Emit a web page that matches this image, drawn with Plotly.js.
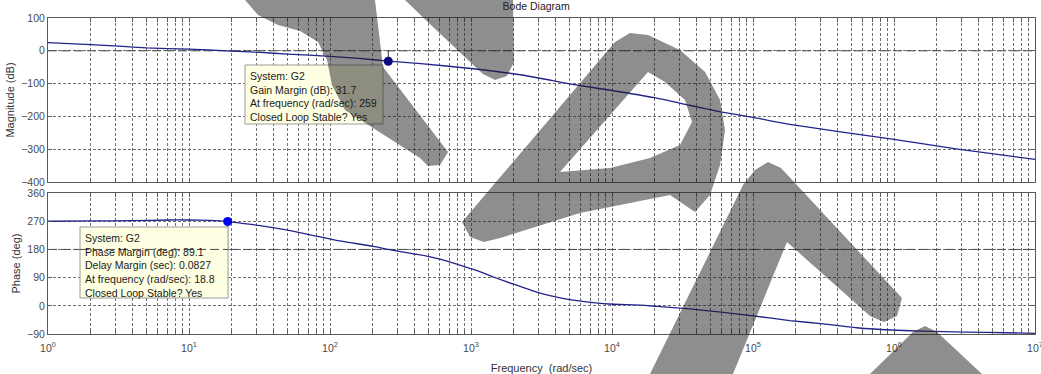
<!DOCTYPE html>
<html>
<head>
<meta charset="utf-8">
<script src="https://cdn.plot.ly/plotly-3.0.1.min.js"></script>
<style>
  html, body { margin: 0; padding: 0; background: #ffffff; }
  #bode { width: 1041px; height: 374px; }
</style>
</head>
<body>
<div id="bode"></div>
<script>
// Open-loop response of G2: magnitude samples (rad/sec, dB)
const magFreq = [1, 2, 3.2, 5, 10, 18.8, 32, 50, 100, 160, 259, 440, 1000, 2240, 3300, 5000,
                 10000, 20000, 35500, 59000, 100000, 182000, 417000, 1000000, 2750000, 10000000];
const magDb   = [25, 19, 14, 9, 5, 0, -5, -10, -17, -23, -31.7, -39, -54, -73, -86, -101,
                 -121, -143, -166, -186, -203, -224, -247, -270, -299, -331];

// Phase samples (rad/sec, deg)
const phaseFreq = [1, 2, 4, 7.1, 10, 14.1, 18.8, 28.6, 35.5, 50, 85, 117, 203, 259, 350, 485, 603,
                   933, 1040, 1220, 1440, 2000, 2920, 4060, 5320, 7360, 10200, 15800, 21000, 35500,
                   61700, 100000, 182000, 316000, 543000, 1050000, 1620000, 3160000, 6300000, 10000000];
const phaseDeg  = [270, 271, 272, 274, 274, 272.5, 269.1, 259, 253, 242, 220, 207, 190, 180, 170, 159, 149,
                   123, 116, 105, 92, 69, 44, 28, 18, 10, 5, 2, -2, -10,
                   -21, -32, -47, -58, -70, -78, -81, -84, -86, -88];

// Stability margins
const gainMargin  = { freq: 259,  value: 31.7 };
const phaseMargin = { freq: 18.8, value: 89.1, delay: 0.0827 };

// Axis ticks
const decades     = [1, 10, 100, 1000, 10000, 100000, 1000000, 10000000];
const decadeText  = ['10<sup>0</sup>', '10<sup>1</sup>', '10<sup>2</sup>', '10<sup>3</sup>',
                     '10<sup>4</sup>', '10<sup>5</sup>', '10<sup>6</sup>', '10<sup>7</sup>'];
const minorSteps  = [2, 3, 4, 5, 6, 7, 8, 9];
const magTicks    = [-400, -300, -200, -100, 0, 100];
const phaseTicks  = [-90, 0, 90, 180, 270, 360];

// Subdivisions 2..9 inside every decade
const minorVals = [];
decades.slice(0, -1).forEach(d => minorSteps.forEach(m => minorVals.push(d * m)));

const FONT = 'Liberation Sans, Arial, Helvetica, sans-serif';
const CURVE = '#23238c';
const REF_DASH = '9px,4px';
const fRange = [Math.log10(decades[0]), Math.log10(decades[decades.length - 1])];

const traces = [
  // reference lines: 0 dB and 180 deg
  { x: [decades[0], decades[decades.length - 1]], y: [0, 0], xaxis: 'x2', yaxis: 'y',
    mode: 'lines', line: { color: '#4a4a4a', width: 1, dash: REF_DASH }, hoverinfo: 'skip' },
  { x: [decades[0], decades[decades.length - 1]], y: [180, 180], xaxis: 'x', yaxis: 'y2',
    mode: 'lines', line: { color: '#4a4a4a', width: 1, dash: REF_DASH }, hoverinfo: 'skip' },
  // margin stems
  { x: [gainMargin.freq, gainMargin.freq], y: [0, -gainMargin.value], xaxis: 'x2', yaxis: 'y',
    mode: 'lines', line: { color: '#333', width: 1 }, hoverinfo: 'skip' },
  { x: [phaseMargin.freq, phaseMargin.freq], y: [180, 180 + phaseMargin.value], xaxis: 'x', yaxis: 'y2',
    mode: 'lines', line: { color: '#333', width: 1 }, hoverinfo: 'skip' },
  // magnitude
  { x: magFreq, y: magDb, xaxis: 'x2', yaxis: 'y', mode: 'lines',
    line: { color: CURVE, width: 1.3, shape: 'spline', smoothing: 0.5 } },
  // phase
  { x: phaseFreq, y: phaseDeg, xaxis: 'x', yaxis: 'y2', mode: 'lines',
    line: { color: CURVE, width: 1.3, shape: 'spline', smoothing: 0.5 } },
  // margin markers
  { x: [gainMargin.freq], y: [-gainMargin.value], xaxis: 'x2', yaxis: 'y', mode: 'markers',
    marker: { color: '#0a0a80', size: 9 } },
  { x: [phaseMargin.freq], y: [180 + phaseMargin.value], xaxis: 'x', yaxis: 'y2', mode: 'markers',
    marker: { color: '#0000ee', size: 9 } }
];

const gridStyle = { showgrid: true, gridcolor: '#707070', gridwidth: 1, griddash: '3px,2px' };
const axisFrame = { showline: true, linecolor: '#5a5a5a', linewidth: 1, mirror: 'allticks',
                    ticks: 'inside', ticklen: 4, tickcolor: '#5a5a5a', zeroline: false };
const minorX = { tickmode: 'array', tickvals: minorVals, ticks: 'inside', ticklen: 4, tickcolor: '#5a5a5a',
                 showgrid: true, gridcolor: '#707070', gridwidth: 1, griddash: '3px,2px' };
const tickFont = { family: FONT, size: 10.5, color: '#4a4a4a' };

// Page-pixel helpers (plot area spans x 48..1035, y 18..334)
const PLOT_LEFT = 48, PLOT_WIDTH = 987, PLOT_BOTTOM = 334, PLOT_HEIGHT = 316;
const px = x => (x - PLOT_LEFT) / PLOT_WIDTH;
const py = y => (PLOT_BOTTOM - y) / PLOT_HEIGHT;
function ring(pts) {
  return pts.map((p, i) => (i ? 'L' : 'M') + px(p[0]).toFixed(4) + ',' + py(p[1]).toFixed(4)).join(' ') + ' Z';
}

// Data-tip boxes: the frames are shapes so the watermark can sit on top of them
const gainTip  = { left: 245, top: 65, right: 383, bottom: 124 };
const phaseTip = { left: 80, top: 227, right: 228, bottom: 298 };
const tipBox = b => ({ type: 'rect', xref: 'paper', yref: 'paper', layer: 'above',
  x0: px(b.left), x1: px(b.right), y0: py(b.bottom), y1: py(b.top),
  fillcolor: '#ffffe3', line: { color: '#9a9a9a', width: 1 } });

const tipFont = { family: FONT, size: 10.5, color: '#1a1a1a' };
const annotations = [
  { xref: 'paper', yref: 'paper', x: px(gainTip.left), y: py(gainTip.top),
    xanchor: 'left', yanchor: 'top', align: 'left', showarrow: false,
    bordercolor: 'rgba(0,0,0,0)', borderwidth: 1, borderpad: 4, font: tipFont,
    text: 'System: G2<br>Gain Margin (dB): ' + gainMargin.value +
          '<br>At frequency (rad/sec): ' + gainMargin.freq + '<br>Closed Loop Stable? Yes' },
  { xref: 'paper', yref: 'paper', x: px(phaseTip.left), y: py(phaseTip.top),
    xanchor: 'left', yanchor: 'top', align: 'left', showarrow: false,
    bordercolor: 'rgba(0,0,0,0)', borderwidth: 1, borderpad: 4, font: tipFont,
    text: 'System: G2<br>Phase Margin (deg): ' + phaseMargin.value +
          '<br>Delay Margin (sec): ' + phaseMargin.delay +
          '<br>At frequency (rad/sec): ' + phaseMargin.freq + '<br>Closed Loop Stable? Yes' }
];

// Grey watermark glyphs laid over the figure, outlined in page pixels
const glyphs = [
  [[245, 0], [258, 15], [278, 25], [300, 31], [318, 42], [327, 60], [332, 85], [345, 110],
   [420, 158], [428, 166], [440, 165], [448, 152], [383, 67], [375, 0]],
  [[405, 0], [433, 27], [483, 74], [495, 80], [507, 76], [514, 62], [513, 0]],
  [[615, 42], [630, 33], [648, 35], [680, 50], [705, 72], [720, 100], [725, 130], [720, 165],
   [710, 195], [695, 212], [670, 195], [580, 213], [500, 238], [484, 242], [470, 237], [462, 222]],
  [[755, 170], [768, 162], [781, 168], [902, 298], [897, 316], [884, 322], [870, 316], [787, 242],
   [733, 374], [650, 374], [743, 185]],
  [[870, 374], [913, 332], [925, 326], [937, 332], [982, 374]]
];
const bowlCounter = [[560, 172], [610, 168], [650, 158], [680, 145], [692, 122], [685, 100],
                     [665, 82], [648, 72]];
const WM_FILL = 'rgba(30,30,30,0.5)';

const shapes = [
  tipBox(gainTip),
  tipBox(phaseTip),
  // the 180 deg margin line runs across the phase data tip
  { type: 'line', xref: 'paper', yref: 'y2', layer: 'above',
    x0: px(phaseTip.left), x1: px(phaseTip.right), y0: 180, y1: 180,
    line: { color: '#4a4a4a', width: 1, dash: REF_DASH } }
].concat(glyphs.map((g, i) => ({
  type: 'path', xref: 'paper', yref: 'paper', layer: 'above',
  path: ring(g) + (i === 2 ? ' ' + ring(bowlCounter) : ''),
  fillrule: 'evenodd', fillcolor: WM_FILL, line: { width: 0 }
})));

const layout = {
  width: 1041, height: 374,
  margin: { l: 48, r: 6, t: 18, b: 40 },
  paper_bgcolor: '#ffffff', plot_bgcolor: '#ffffff',
  showlegend: false,
  font: { family: FONT, size: 11, color: '#333' },
  title: { text: 'Bode Diagram', x: 0.515, xanchor: 'center', y: 0.982, yanchor: 'middle',
           font: { family: FONT, size: 10.5, color: '#222' } },
  xaxis: Object.assign({ type: 'log', range: fRange, anchor: 'y2', tickmode: 'array',
    tickvals: decades, ticktext: decadeText, tickfont: tickFont, ticklabeloverflow: 'allow',
    ticklabelstandoff: 4, minor: minorX,
    title: { text: 'Frequency  (rad/sec)', standoff: 12, font: { family: FONT, size: 11, color: '#333' } } },
    gridStyle, axisFrame),
  xaxis2: Object.assign({ type: 'log', range: fRange, anchor: 'y', matches: 'x', tickmode: 'array',
    tickvals: decades, showticklabels: false, minor: minorX }, gridStyle, axisFrame),
  yaxis: Object.assign({ domain: [0.481, 1], range: [magTicks[0], magTicks[magTicks.length - 1]],
    tickmode: 'array', tickvals: magTicks, tickfont: tickFont, anchor: 'x2',
    title: { text: 'Magnitude (dB)', standoff: 4, font: { family: FONT, size: 11, color: '#333' } } },
    gridStyle, axisFrame),
  yaxis2: Object.assign({ domain: [0, 0.446], range: [phaseTicks[0], phaseTicks[phaseTicks.length - 1]],
    tickmode: 'array', tickvals: phaseTicks, tickfont: tickFont, anchor: 'x',
    title: { text: 'Phase (deg)', standoff: 4, font: { family: FONT, size: 11, color: '#333' } } },
    gridStyle, axisFrame),
  shapes: shapes,
  annotations: annotations
};

Plotly.newPlot('bode', traces, layout, { staticPlot: true, displayModeBar: false });
</script>
</body>
</html>
